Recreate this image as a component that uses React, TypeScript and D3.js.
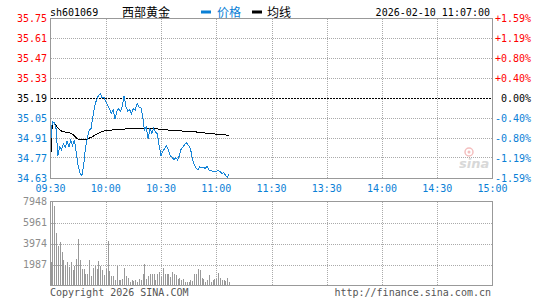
import React from "react";
import * as d3 from "d3";

const timeLabels = ["09:30", "10:00", "10:30", "11:00", "11:30", "13:30", "14:00", "14:30", "15:00"];
const priceTicks = [35.75, 35.61, 35.47, 35.33, 35.19, 35.05, 34.91, 34.77, 34.63];
const pctTicks = ["+1.59%", "+1.19%", "+0.80%", "+0.40%", "0.00%", "-0.40%", "-0.80%", "-1.19%", "-1.59%"];
const volTicks = [7948, 5961, 3974, 1987];
const prevClose = 35.19;

const prices = [
  34.87, 35.03, 35.02, 34.98, 34.79, 34.85, 34.83, 34.875, 34.85, 34.89,
  34.85, 34.9, 34.86, 34.9, 34.81, 34.72, 34.67, 34.65, 34.72, 34.85,
  34.91, 34.97, 34.98, 35.06, 35.14, 35.18, 35.21, 35.225, 35.195, 35.2,
  35.17, 35.14, 35.12, 35.085, 35.11, 35.045, 35.1, 35.12, 35.1, 35.14,
  35.21, 35.13, 35.1, 35.11, 35.085, 35.12, 35.11, 35.155, 35.13, 35.13,
  35.07, 34.97, 34.99, 34.91, 34.98, 34.945, 34.98, 34.955, 34.945, 34.86,
  34.79, 34.82, 34.84, 34.86, 34.83, 34.79, 34.78, 34.76, 34.775, 34.76,
  34.79, 34.84, 34.85, 34.87, 34.88, 34.86, 34.84, 34.77, 34.73, 34.705,
  34.69, 34.71, 34.705, 34.71, 34.7, 34.715, 34.69, 34.685, 34.68, 34.68,
  34.68, 34.685, 34.68, 34.665, 34.67, 34.655, 34.635, 34.665,
];

const avgPrices = [
  34.735, 35.027, 35.02, 35.0, 34.985, 34.97, 34.962, 34.957, 34.955, 34.952,
  34.95, 34.947, 34.94, 34.927, 34.915, 34.907, 34.903, 34.901, 34.901, 34.903,
  34.907, 34.912, 34.918, 34.925, 34.932, 34.94, 34.947, 34.953, 34.958, 34.962,
  34.965, 34.967, 34.968, 34.969, 34.97, 34.971, 34.972, 34.973, 34.974, 34.975,
  34.976, 34.977, 34.978, 34.979, 34.979, 34.98, 34.98, 34.981, 34.982, 34.982,
  34.982, 34.981, 34.98, 34.979, 34.979, 34.978, 34.978, 34.977, 34.977, 34.976,
  34.974, 34.972, 34.971, 34.97, 34.969, 34.968, 34.967, 34.966, 34.965, 34.964,
  34.963, 34.963, 34.962, 34.962, 34.962, 34.962, 34.961, 34.96, 34.958, 34.956,
  34.954, 34.952, 34.951, 34.95, 34.948, 34.947, 34.946, 34.945, 34.943, 34.942,
  34.941, 34.94, 34.938, 34.937, 34.936, 34.935, 34.933, 34.932,
];

const volumes = [
  2236, 7948, 7503, 4980, 3719, 4128, 3182, 2394, 1921, 2236,
  1763, 2236, 1448, 1826, 2489, 4444, 2457, 1542, 1542, 1132,
  1132, 2394, 880, 1700, 1826, 1542, 2299, 1826, 1511, 975,
  1542, 4192, 1353, 880, 880, 501, 1826, 501, 501, 659,
  1637, 880, 754, 312, 501, 438, 501, 312, 659, 501,
  1069, 2015, 659, 880, 1069, 1069, 1069, 501, 1069, 1258,
  817, 1668, 1069, 1069, 1069, 817, 1258, 1132, 1038, 659,
  754, 501, 596, 312, 312, 312, 501, 407, 1069, 1069,
  1542, 1448, 722, 627, 312, 501, 1038, 343, 501, 627,
  659, 1195, 754, 501, 501, 438, 754, 312,
];

const RED = "#ff0000";
const BLUE = "#0a80d6";
const LINE_BLUE = "#1685d8";
const GRID = "#aaaaaa";
const BORDER = "#999999";
const MONO = "'DejaVu Sans Mono', monospace";
const CJK = "'Noto Sans CJK SC', sans-serif";

export default function App() {
  const L = 50.5, R = 492.5;
  const x = d3.scaleLinear().domain([0, 240]).range([L, R]);
  const yP = d3.scaleLinear().domain([34.63, 35.75]).range([178.5, 18.5]);
  const yV = d3.scaleLinear().domain([0, 7948]).range([285.5, 201.5]);

  const priceLine = d3.line<number>().x((_, i) => x(i)).y((d) => yP(d))(prices) || "";
  const avgLine = d3.line<number>().x((_, i) => x(i)).y((d) => yP(d))(avgPrices) || "";

  const colorFor = (p: number) => (Math.abs(p - prevClose) < 1e-6 ? "#000" : p > prevClose ? RED : BLUE);
  const gridMinutes = [30, 60, 90, 120, 150, 180, 210];

  return (
    <svg
      width={545}
      height={300}
      style={{ position: "absolute", left: 0, top: 0, background: "#fff" }}
      fontFamily={MONO}
      fontSize={10}
    >
      {/* header */}
      <text x={50} y={15.5} fill="#000">sh601069</text>
      <text x={122} y={16.5} fontFamily={CJK} fontSize={12} fill="#000">西部黄金</text>
      <rect x={201} y={10.5} width={10} height={3} fill={BLUE} />
      <text x={217} y={16.5} fontFamily={CJK} fontSize={12} fill={BLUE}>价格</text>
      <rect x={252} y={10.5} width={10} height={3} fill="#000" />
      <text x={267} y={16.5} fontFamily={CJK} fontSize={12} fill="#000">均线</text>
      <text x={490} y={15.5} textAnchor="end" fill="#000">2026-02-10 11:07:00</text>

      {/* watermark */}
      <g opacity={0.9}>
        <circle cx={469} cy={152} r={4} fill="none" stroke="#f3b9b9" strokeWidth={1.5} />
        <circle cx={469} cy={152} r={1.5} fill="#f3b9b9" />
        <text x={459} y={168} fontFamily="'DejaVu Sans', sans-serif" fontStyle="italic" fontWeight="bold" fontSize={13} fill="#d4d4d4">sina</text>
      </g>

      {/* price grid */}
      <g shapeRendering="crispEdges">
        {priceTicks.slice(1, -1).map((p, i) => (
          <line
            key={"h" + i}
            x1={L} x2={R} y1={Math.round(yP(p)) - 0.5} y2={Math.round(yP(p)) - 0.5}
            stroke={p === prevClose ? "#000" : GRID}
            strokeDasharray={p === prevClose ? "2,1" : "1,1"}
          />
        ))}
        {gridMinutes.map((m) => (
          <line key={"v" + m} x1={Math.round(x(m)) + 0.5} x2={Math.round(x(m)) + 0.5} y1={18.5} y2={178.5} stroke={GRID} strokeDasharray="1,1" />
        ))}
      </g>

      {/* lines */}
      <path d={avgLine} fill="none" stroke="#000" strokeWidth={1} shapeRendering="crispEdges" />
      <path d={priceLine} fill="none" stroke={LINE_BLUE} strokeWidth={1} shapeRendering="crispEdges" />

      <rect x={L} y={18.5} width={R - L} height={160} fill="none" stroke={BORDER} shapeRendering="crispEdges" />

      {/* price axis labels */}
      {priceTicks.map((p, i) => (
        <text key={"pl" + i} x={47} y={yP(p) + 3} textAnchor="end" fill={colorFor(p)}>{p.toFixed(2)}</text>
      ))}
      {pctTicks.map((t, i) => (
        <text key={"pr" + i} x={531} y={yP(priceTicks[i]) + 3} textAnchor="end" fill={colorFor(priceTicks[i])}>{t}</text>
      ))}

      {/* time labels */}
      {timeLabels.map((t, i) => (
        <text key={"t" + i} x={x(i * 30)} y={191.5} textAnchor="middle" fill={BLUE}>{t}</text>
      ))}

      {/* volume grid */}
      <g shapeRendering="crispEdges">
        {volTicks.slice(1).map((v) => (
          <line key={"vh" + v} x1={L} x2={R} y1={Math.round(yV(v)) + 0.5} y2={Math.round(yV(v)) + 0.5} stroke={GRID} strokeDasharray="1,1" />
        ))}
        {gridMinutes.map((m) => (
          <line key={"vv" + m} x1={Math.round(x(m)) + 0.5} x2={Math.round(x(m)) + 0.5} y1={201.5} y2={285.5} stroke={GRID} strokeDasharray="1,1" />
        ))}
        {volumes.map((v, i) => (
          <rect key={"b" + i} x={Math.round(x(i))} y={yV(v)} width={1} height={285.5 - yV(v)} fill="#999999" />
        ))}
        <rect x={L} y={201.5} width={R - L} height={84} fill="none" stroke={BORDER} />
      </g>

      {volTicks.map((v) => (
        <text key={"vl" + v} x={47} y={yV(v) + 3} textAnchor="end" fill="#8c8c8c">{v}</text>
      ))}

      {/* footer */}
      <text x={50} y={296} fill="#555">Copyright 2026 SINA.COM</text>
      <text x={491} y={296} textAnchor="end" fill="#555">http://finance.sina.com.cn</text>
    </svg>
  );
}
